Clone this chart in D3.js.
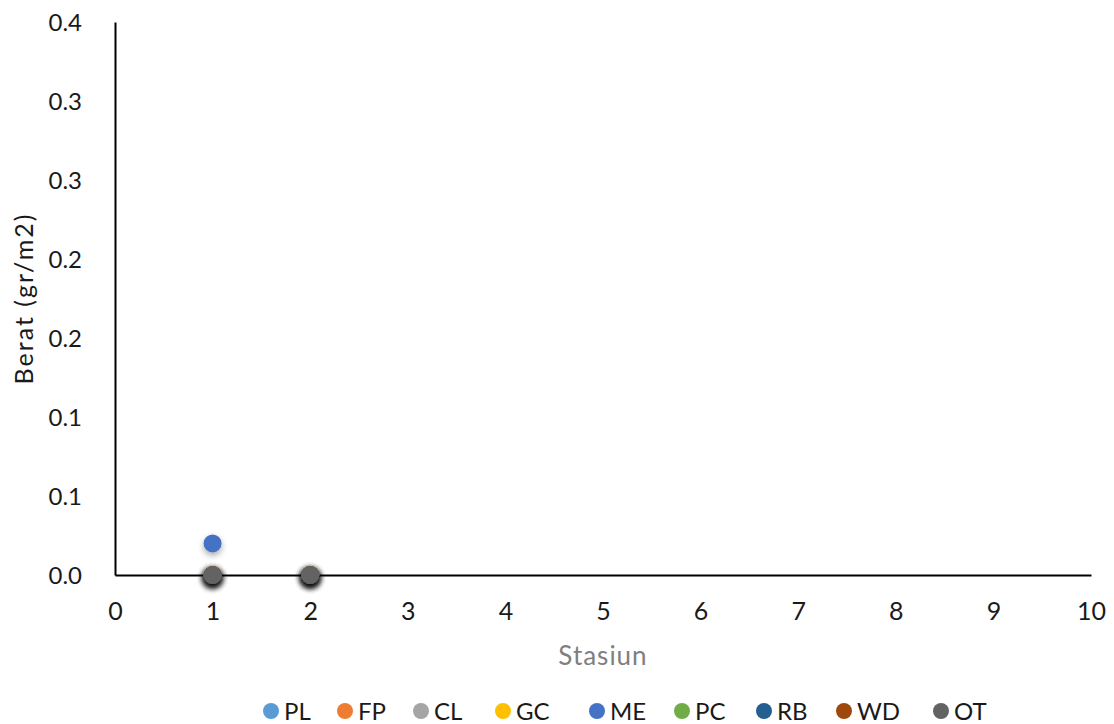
<!DOCTYPE html>
<html>
<head>
<meta charset="utf-8">
<script src="https://cdn.jsdelivr.net/npm/d3@7"></script>
<style>
  html, body { margin: 0; padding: 0; background: #fff; }
  svg { display: block; font-family: Lato, "Noto Sans", sans-serif; }
</style>
</head>
<body>
<svg id="chart" width="1114" height="724"></svg>
<script>
// Weight per station for each debris category
const stations = [1, 2];
const seriesNames = ["PL", "FP", "CL", "GC", "ME", "PC", "RB", "WD", "OT"];
const seriesColors = ["#5B9BD5", "#ED7D31", "#A5A5A5", "#FFC000", "#4472C4", "#70AD47", "#255E91", "#9E480E", "#636363"];
const PL = [0, 0];
const FP = [0, 0];
const CL = [0, 0];
const GC = [0, 0];
const ME = [0.02, 0];
const PC = [0, 0];
const RB = [0, 0];
const WD = [0, 0];
const OT = [0, 0];
const seriesValues = [PL, FP, CL, GC, ME, PC, RB, WD, OT];

const xTicks = [0, 1, 2, 3, 4, 5, 6, 7, 8, 9, 10];
const yTicks = [0, 0.05, 0.1, 0.15, 0.2, 0.25, 0.3, 0.35];
// one-decimal labels, rounded half up
const yTickLabels = ["0.0", "0.1", "0.1", "0.2", "0.2", "0.3", "0.3", "0.4"];

const svg = d3.select("#chart");
const margin = { left: 115, right: 23, top: 22, bottom: 149 };
const W = 1114, H = 724;

const x = d3.scaleLinear().domain([0, 10]).range([margin.left, W - margin.right]);
const y = d3.scaleLinear().domain([0, 0.35]).range([H - margin.bottom, margin.top]);

// soft drop shadow under markers
const defs = svg.append("defs");
const f = defs.append("filter").attr("id", "shadow")
  .attr("x", "-80%").attr("y", "-80%").attr("width", "260%").attr("height", "260%");
f.append("feDropShadow").attr("dx", 0).attr("dy", 3).attr("stdDeviation", 3)
  .attr("flood-color", "#000").attr("flood-opacity", 0.35);

// axes
const xAxis = svg.append("g")
  .attr("transform", `translate(0,${y(0)})`)
  .call(d3.axisBottom(x).tickValues(xTicks).tickSize(0).tickPadding(36).tickFormat(d3.format("d")));
const yAxis = svg.append("g")
  .attr("transform", `translate(${margin.left},0)`)
  .call(d3.axisLeft(y).tickValues(yTicks).tickSize(0).tickPadding(33)
    .tickFormat((d, i) => yTickLabels[i]));

[xAxis, yAxis].forEach(g => {
  g.select(".domain").attr("stroke", "#000").attr("stroke-width", 2);
  g.selectAll("text").attr("fill", "#1a1a1a")
    .attr("font-family", "Lato, 'Noto Sans', sans-serif");
});
yAxis.selectAll("text").attr("font-size", 24).attr("dy", "0.35em");
xAxis.selectAll("text").attr("font-size", 25).attr("dy", "0.35em");

// axis titles
svg.append("text")
  .attr("x", (x(0) + x(10)) / 2).attr("y", 665)
  .attr("text-anchor", "middle").attr("font-size", 26).attr("letter-spacing", 1)
  .attr("fill", "#7f7f7f")
  .text("Stasiun");
svg.append("text")
  .attr("transform", `translate(33,${(y(0) + y(0.35)) / 2}) rotate(-90)`)
  .attr("text-anchor", "middle").attr("font-size", 25).attr("letter-spacing", 2)
  .attr("fill", "#1a1a1a")
  .text("Berat (gr/m2)");

// markers, drawn series by series so later series sit on top
seriesNames.forEach((name, i) => {
  svg.append("g").attr("class", "series-" + name)
    .selectAll("circle")
    .data(stations.map((s, j) => ({ s, v: seriesValues[i][j] })))
    .join("circle")
    .attr("cx", d => x(d.s))
    .attr("cy", d => y(d.v))
    .attr("r", 9)
    .attr("fill", seriesColors[i])
    .attr("filter", "url(#shadow)");
});

// legend
const legendX = [271, 345, 421, 503, 597, 682, 764, 844, 941];
const legend = svg.append("g");
seriesNames.forEach((name, i) => {
  const g = legend.append("g").attr("transform", `translate(${legendX[i]},711)`);
  g.append("circle").attr("r", 8).attr("fill", seriesColors[i]);
  g.append("text").attr("x", 13).attr("dy", "0.36em")
    .attr("font-size", 24).attr("fill", "#1a1a1a").text(name);
});
</script>
</body>
</html>
